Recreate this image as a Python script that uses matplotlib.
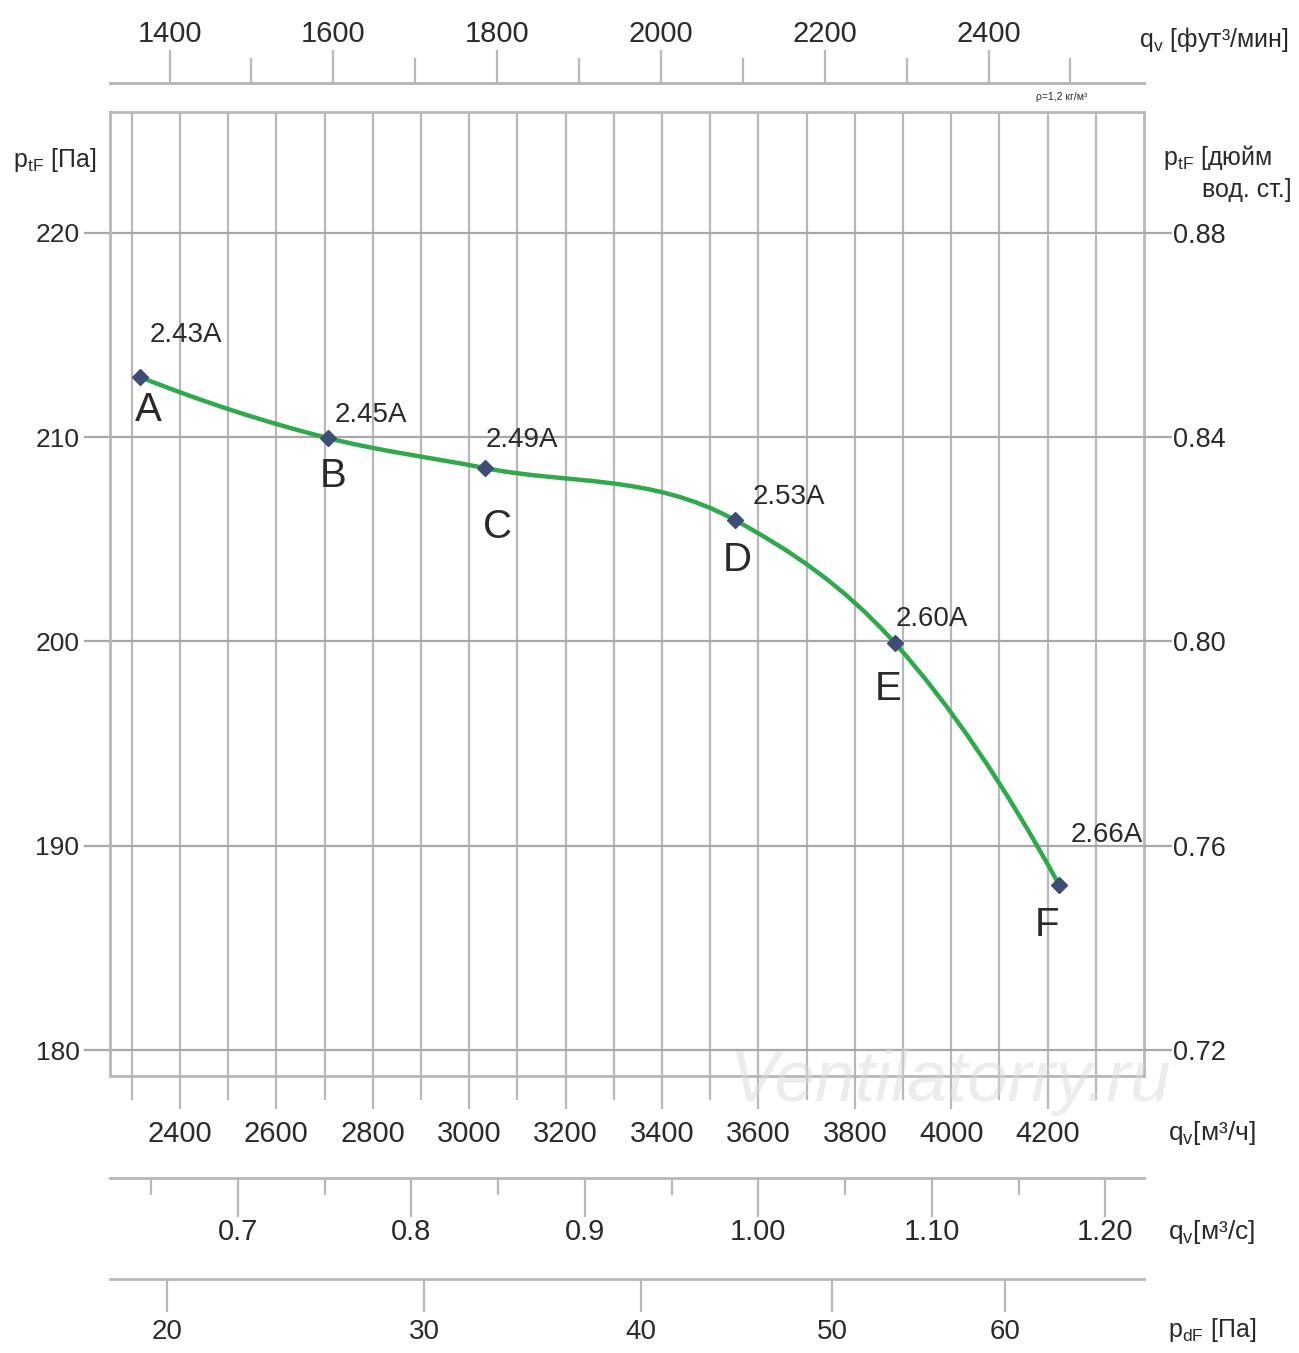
"""Fan curve: total pressure vs flow, with auxiliary flow / dynamic pressure scales."""

import matplotlib
matplotlib.use("Agg")
import matplotlib.pyplot as plt
from matplotlib.path import Path
from matplotlib.patches import PathPatch
from matplotlib.ticker import FixedLocator
import numpy as np

GRID = "#b8b8b8"
HGRID = "#a8a8a8"
TEXT = "#2a2a2a"
CURVE = "#2eaa4c"
MARK = "#3d4d73"
FONT = ["Liberation Sans", "DejaVu Sans"]

plt.rcParams.update({
    "font.family": FONT,
    "text.color": TEXT,
    "xtick.color": TEXT,
    "ytick.color": TEXT,
    "mathtext.fontset": "custom",
    "mathtext.rm": "Liberation Sans",
    "mathtext.it": "Liberation Sans:italic",
})

# operating points
point_names = ["A", "B", "C", "D", "E", "F"]
flow_m3h = [2317, 2707, 3033, 3551, 3883, 4224]
pressure_pa = [212.95, 209.96, 208.49, 205.95, 199.93, 188.08]
current_labels = ["2.43A", "2.45A", "2.49A", "2.53A", "2.60A", "2.66A"]

# scales
pa_ticks = [180, 190, 200, 210, 220]
inch_labels = ["0.72", "0.76", "0.80", "0.84", "0.88"]
m3h_major = [2400, 2600, 2800, 3000, 3200, 3400, 3600, 3800, 4000, 4200]
m3h_minor = [2300, 2500, 2700, 2900, 3100, 3300, 3500, 3700, 3900, 4100, 4300]
cfm_major = [1400, 1600, 1800, 2000, 2200, 2400]
cfm_minor = [1500, 1700, 1900, 2100, 2300, 2500]
m3s_major = [0.7, 0.8, 0.9, 1.0, 1.1, 1.2]
m3s_labels = ["0.7", "0.8", "0.9", "1.00", "1.10", "1.20"]
m3s_minor = [0.65, 0.75, 0.85, 0.95, 1.05, 1.15]
pd_ticks = [20, 30, 40, 50, 60]

CFM_PER_M3H = 0.588578
PD_COEF = 3.55e-6  # Pa per (m3/h)^2

XLIM = (2255, 4400)
YLIM = (178.73, 225.92)

W_PX, H_PX = 1299, 1353


def fx(x):
    return x / W_PX


def fy(y):
    return 1 - y / H_PX


def smooth_path(x, y):
    x = np.asarray(x, float)
    y = np.asarray(y, float)
    h = np.diff(x)
    d = np.diff(y) / h
    m = np.zeros_like(y)
    m[1:-1] = (d[:-1] * h[1:] + d[1:] * h[:-1]) / (h[:-1] + h[1:])
    m[0] = 2 * d[0] - m[1]
    m[-1] = 2 * d[-1] - m[-2]
    verts = [(x[0], y[0])]
    codes = [Path.MOVETO]
    for i in range(len(h)):
        verts += [(x[i] + h[i] / 3, y[i] + m[i] * h[i] / 3),
                  (x[i + 1] - h[i] / 3, y[i + 1] - m[i + 1] * h[i] / 3),
                  (x[i + 1], y[i + 1])]
        codes += [Path.CURVE4] * 3
    return Path(verts, codes)


def aux_axis(fig, y_px):
    a = fig.add_axes([fx(110), fy(y_px), fx(1144) - fx(110), 1e-6])
    a.set_xlim(XLIM)
    a.set_yticks([])
    a.patch.set_visible(False)
    for s in ["left", "right", "top"]:
        a.spines[s].set_visible(False)
    a.spines["bottom"].set_color(GRID)
    a.spines["bottom"].set_linewidth(2)
    return a


def render():
    fig = plt.figure(figsize=(W_PX / 100, H_PX / 100), dpi=100)
    fig.patch.set_facecolor("white")

    ax = fig.add_axes([fx(110), fy(1076), fx(1144) - fx(110), fy(112) - fy(1076)])
    ax.set_xlim(XLIM)
    ax.set_ylim(YLIM)
    for s in ax.spines.values():
        s.set_color(GRID)
        s.set_linewidth(2)

    ax.xaxis.set_major_locator(FixedLocator(m3h_major))
    ax.xaxis.set_minor_locator(FixedLocator(m3h_minor))
    ax.set_xticklabels([str(v) for v in m3h_major])
    ax.set_yticks(pa_ticks)
    ax.set_yticklabels([str(v) for v in pa_ticks])
    ax.grid(True, axis="x", which="both", color=GRID, linewidth=1.6)
    ax.grid(True, axis="y", which="major", color=HGRID, linewidth=1.6)
    ax.set_axisbelow(True)
    ax.tick_params(axis="x", which="major", length=24, width=1.6, color=GRID,
                   pad=8, labelsize=21)
    ax.tick_params(axis="x", which="minor", length=17, width=1.6, color=GRID)
    ax.tick_params(axis="y", length=19, width=1.6, color=HGRID, pad=3, labelsize=19)

    axr = ax.twinx()
    axr.set_ylim(YLIM)
    axr.set_yticks(pa_ticks)
    axr.set_yticklabels(inch_labels)
    axr.tick_params(axis="y", length=20, width=1.6, color=HGRID, pad=1, labelsize=19.5)
    for s in axr.spines.values():
        s.set_visible(False)

    # curve and points
    ax.add_patch(PathPatch(smooth_path(flow_m3h, pressure_pa), facecolor="none",
                           edgecolor=CURVE, linewidth=3.2, zorder=3))
    ax.plot(flow_m3h, pressure_pa, linestyle="none", marker="D", markersize=8,
            color=MARK, zorder=4)

    amp_off = [(10, 42), (7, 23), (1, 28), (18, 23), (1, 24), (11, 50)]
    name_off = [(8, -33), (5, -38), (13, -59), (3, -40), (-7, -46), (-12, -40)]
    for i in range(len(point_names)):
        ax.annotate(current_labels[i], (flow_m3h[i], pressure_pa[i]),
                    xytext=amp_off[i], textcoords="offset pixels",
                    ha="left", va="center", fontsize=20, zorder=5)
        ax.annotate(point_names[i], (flow_m3h[i], pressure_pa[i]),
                    xytext=name_off[i], textcoords="offset pixels",
                    ha="center", va="center", fontsize=29, zorder=5)

    # top: ft3/min
    at = aux_axis(fig, 83)
    at.xaxis.set_ticks_position("top")
    at.spines["top"].set_visible(True)
    at.spines["top"].set_color(GRID)
    at.spines["top"].set_linewidth(2)
    at.xaxis.set_major_locator(FixedLocator([v / CFM_PER_M3H for v in cfm_major]))
    at.xaxis.set_minor_locator(FixedLocator([v / CFM_PER_M3H for v in cfm_minor]))
    at.set_xticklabels([str(v) for v in cfm_major])
    at.tick_params(axis="x", which="major", direction="out", length=24, width=1.6,
                   color=GRID, pad=1, labelsize=21, top=True, bottom=False,
                   labeltop=True, labelbottom=False)
    at.tick_params(axis="x", which="minor", direction="out", length=18, width=1.6,
                   color=GRID, top=True, bottom=False)

    # m3/s
    a2 = aux_axis(fig, 1178)
    a2.xaxis.set_major_locator(FixedLocator([v * 3600 for v in m3s_major]))
    a2.xaxis.set_minor_locator(FixedLocator([v * 3600 for v in m3s_minor]))
    a2.set_xticklabels(m3s_labels)
    a2.tick_params(axis="x", which="major", length=28, width=1.6, color=GRID,
                   pad=1, labelsize=21)
    a2.tick_params(axis="x", which="minor", length=12, width=1.6, color=GRID)

    # dynamic pressure
    a3 = aux_axis(fig, 1279)
    a3.xaxis.set_major_locator(FixedLocator([np.sqrt(v / PD_COEF) for v in pd_ticks]))
    a3.set_xticklabels([str(v) for v in pd_ticks])
    a3.tick_params(axis="x", which="major", length=24, width=1.6, color=GRID,
                   pad=5, labelsize=20)

    # axis titles
    fig.text(fx(13), fy(160), r"p$_\mathrm{tF}$ [Па]", ha="left", va="center", fontsize=18)
    fig.text(fx(1163), fy(158), r"p$_\mathrm{tF}$ [дюйм", ha="left", va="center", fontsize=18)
    fig.text(fx(1292), fy(190), "вод. ст.]", ha="right", va="center", fontsize=18)
    fig.text(fx(1288), fy(40), r"q$_\mathrm{v}$ [фут³/мин]", ha="right", va="center", fontsize=18)
    fig.text(fx(1168), fy(1133), r"q$_\mathrm{v}$[м³/ч]", ha="left", va="center", fontsize=19)
    fig.text(fx(1168), fy(1232), r"q$_\mathrm{v}$[м³/с]", ha="left", va="center", fontsize=19)
    fig.text(fx(1168), fy(1330), r"p$_\mathrm{dF}$ [Па]", ha="left", va="center", fontsize=18)
    fig.text(fx(1062), fy(97), "ρ=1,2 кг/м³", ha="center", va="center", fontsize=7.5)

    # watermark
    fig.text(fx(950), fy(1082), "Ventilatorry.ru", ha="center", va="center",
             fontsize=52, fontstyle="italic", color="#dadada", alpha=0.5, zorder=10)

    fig.savefig("out.png", dpi=100, facecolor="white")
    plt.close(fig)


if __name__ == "__main__":
    render()
